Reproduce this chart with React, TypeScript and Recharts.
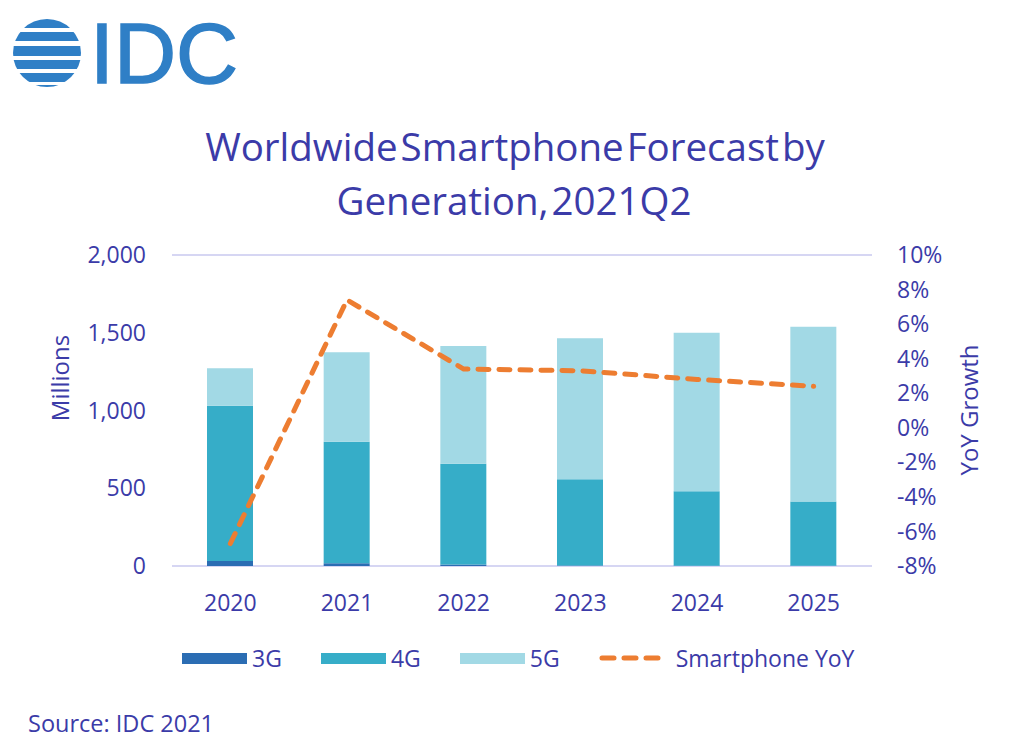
import React from "react";
import { ComposedChart, Bar, Line, XAxis, YAxis, CartesianGrid, Legend } from "recharts";

const years = ["2020", "2021", "2022", "2023", "2024", "2025"];
const g3 = [32, 18, 10, 4, 2, 1];
const g4 = [999, 781, 648, 554, 478, 413];
const g5 = [240, 575, 757, 906, 1020, 1125];
const yoy = [-6.7, 7.4, 3.4, 3.3, 2.8, 2.4];
const leftTicks = [0, 500, 1000, 1500, 2000];
const rightTicks = [-8, -6, -4, -2, 0, 2, 4, 6, 8, 10];

const data = years.map((y, i) => ({ year: y, g3: g3[i], g4: g4[i], g5: g5[i], yoy: yoy[i] }));

const TEXT = "#3b3ba8";
const FONT = "'Open Sans', sans-serif";

const LegendContent = (props: any) => {
  const payload = props.payload || [];
  return (
    <div style={{ display: "flex", alignItems: "center", fontFamily: FONT, fontSize: 23, color: TEXT, height: 30 }}>
      {payload.map((p: any, i: number) => (
        <div key={i} style={{ display: "flex", alignItems: "center", marginRight: 39 }}>
          {p.type === "line" ? (
            <svg width={65} height={12} style={{ marginRight: 12 }}>
              <line x1={3} y1={6} x2={62} y2={6} stroke={p.color} strokeWidth={5} strokeDasharray="12 10" strokeLinecap="round" />
            </svg>
          ) : (
            <div style={{ width: 65, height: 11, background: p.color, marginRight: 5 }} />
          )}
          <span>{p.value}</span>
        </div>
      ))}
    </div>
  );
};

export default function App() {
  return (
    <div style={{ position: "absolute", left: 0, top: 0, width: 1024, height: 748, background: "#fff", fontFamily: FONT }}>
      <svg width={1024} height={748} style={{ position: "absolute", left: 0, top: 0 }}>
        <defs>
          <clipPath id="globe">
            <circle cx={47} cy={53} r={34} />
          </clipPath>
        </defs>
        <g clipPath="url(#globe)" fill="#2f7fc6">
          <rect x={10} y={19} width={76} height={9} />
          <rect x={10} y={32} width={76} height={9} />
          <rect x={10} y={46} width={76} height={10} />
          <rect x={10} y={60} width={76} height={9} />
          <rect x={10} y={73} width={76} height={9} />
          <rect x={10} y={85} width={76} height={6} />
        </g>
        <text x={90} y={83} fontFamily="'Liberation Sans', Arial, sans-serif" fontSize={86} fill="#2f7fc6" stroke="#2f7fc6" strokeWidth={1.5}>IDC</text>
        <text x={515} y={161} textAnchor="middle" fontSize={38.5} fill={TEXT} fontFamily={FONT} wordSpacing={-7}>Worldwide Smartphone Forecast by</text>
        <text x={514} y={215} textAnchor="middle" fontSize={38.5} fill={TEXT} fontFamily={FONT} wordSpacing={-7}>Generation, 2021Q2</text>
        <text transform="translate(69,378) rotate(-90)" textAnchor="middle" fontSize={24} fill={TEXT} fontFamily={FONT}>Millions</text>
        <text transform="translate(978,410) rotate(-90)" textAnchor="middle" fontSize={24} fill={TEXT} fontFamily={FONT}>YoY Growth</text>
        <text x={28} y={732} fontSize={23.5} fill={TEXT} fontFamily={FONT}>Source: IDC 2021</text>
      </svg>
      <div style={{ position: "absolute", left: 0, top: 0 }}>
        <ComposedChart width={1024} height={748} data={data} margin={{ top: 255, right: 72, bottom: 122, left: 92 }} barSize={46}>
          <CartesianGrid vertical={false} stroke="#c8c8ef" strokeWidth={1.5} />
          <XAxis dataKey="year" axisLine={false} tickLine={false} tickSize={0} tickMargin={29} height={30}
            tick={{ fill: TEXT, fontSize: 23, fontFamily: FONT }} />
          <YAxis yAxisId="left" domain={[0, 2000]} ticks={leftTicks} axisLine={false} tickLine={false} tickSize={0} tickMargin={26} width={80}
            tickFormatter={(v: number) => v.toLocaleString("en-US")} tick={{ fill: TEXT, fontSize: 23, fontFamily: FONT }} />
          <YAxis yAxisId="right" orientation="right" domain={[-8, 10]} ticks={rightTicks} axisLine={false} tickLine={false} tickSize={0} tickMargin={25} width={80}
            tickFormatter={(v: number) => `${v}%`} tick={{ fill: TEXT, fontSize: 23, fontFamily: FONT, textAnchor: "start" }} />
          <Bar yAxisId="left" dataKey="g3" name="3G" stackId="a" fill="#2b6db3" isAnimationActive={false} />
          <Bar yAxisId="left" dataKey="g4" name="4G" stackId="a" fill="#36adc8" isAnimationActive={false} />
          <Bar yAxisId="left" dataKey="g5" name="5G" stackId="a" fill="#a2d9e5" isAnimationActive={false} />
          <Line yAxisId="right" dataKey="yoy" name="Smartphone YoY" type="linear" stroke="#ed7d31" strokeWidth={5}
            strokeDasharray="11 10" strokeLinecap="round" dot={false} activeDot={false} isAnimationActive={false} legendType="line" />
          <Legend content={<LegendContent />} wrapperStyle={{ position: "absolute", top: 643, left: 182, width: "auto", height: 30 }} />
        </ComposedChart>
      </div>
    </div>
  );
}
